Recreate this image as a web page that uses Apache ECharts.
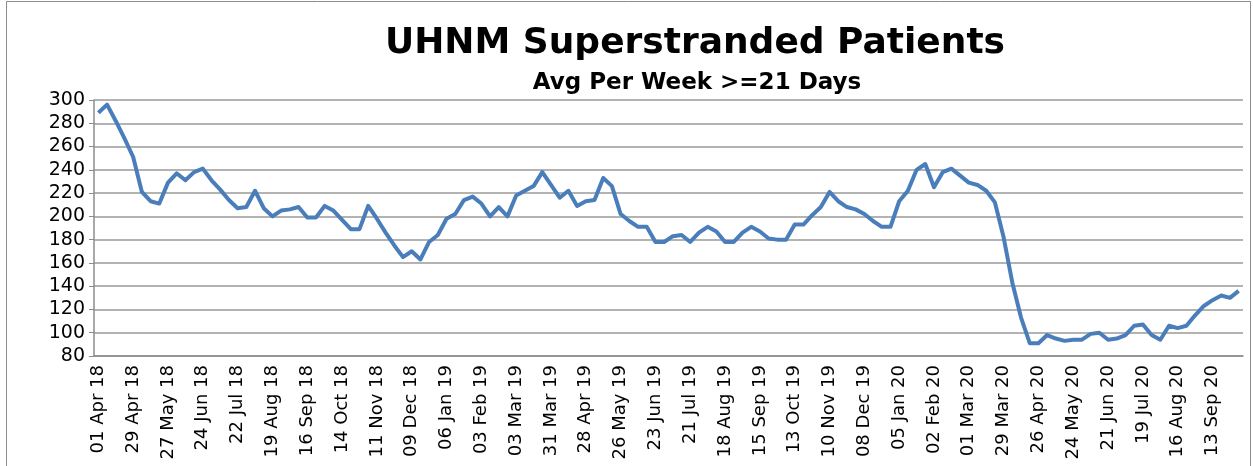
<!DOCTYPE html>
<html>
<head>
<meta charset="utf-8">
<script src="https://cdn.jsdelivr.net/npm/echarts@6/dist/echarts.min.js"></script>
<style>
  html, body { margin: 0; padding: 0; background: #fff; }
  #chart { width: 1253px; height: 466px; }
</style>
</head>
<body>
<div id="chart"></div>
<script>
// weekly dates (week commencing)
var weeks = [
  '01 Apr 18','08 Apr 18','15 Apr 18','22 Apr 18','29 Apr 18','06 May 18','13 May 18','20 May 18','27 May 18',
  '03 Jun 18','10 Jun 18','17 Jun 18','24 Jun 18','01 Jul 18','08 Jul 18','15 Jul 18','22 Jul 18','29 Jul 18',
  '05 Aug 18','12 Aug 18','19 Aug 18','26 Aug 18','02 Sep 18','09 Sep 18','16 Sep 18','23 Sep 18','30 Sep 18',
  '07 Oct 18','14 Oct 18','21 Oct 18','28 Oct 18','04 Nov 18','11 Nov 18','18 Nov 18','25 Nov 18',
  '02 Dec 18','09 Dec 18','16 Dec 18','23 Dec 18','30 Dec 18',
  '06 Jan 19','13 Jan 19','20 Jan 19','27 Jan 19','03 Feb 19','10 Feb 19','17 Feb 19','24 Feb 19',
  '03 Mar 19','10 Mar 19','17 Mar 19','24 Mar 19','31 Mar 19','07 Apr 19','14 Apr 19','21 Apr 19','28 Apr 19',
  '05 May 19','12 May 19','19 May 19','26 May 19','02 Jun 19','09 Jun 19','16 Jun 19','23 Jun 19','30 Jun 19',
  '07 Jul 19','14 Jul 19','21 Jul 19','28 Jul 19','04 Aug 19','11 Aug 19','18 Aug 19','25 Aug 19',
  '01 Sep 19','08 Sep 19','15 Sep 19','22 Sep 19','29 Sep 19','06 Oct 19','13 Oct 19','20 Oct 19','27 Oct 19',
  '03 Nov 19','10 Nov 19','17 Nov 19','24 Nov 19','01 Dec 19','08 Dec 19','15 Dec 19','22 Dec 19','29 Dec 19',
  '05 Jan 20','12 Jan 20','19 Jan 20','26 Jan 20','02 Feb 20','09 Feb 20','16 Feb 20','23 Feb 20',
  '01 Mar 20','08 Mar 20','15 Mar 20','22 Mar 20','29 Mar 20','05 Apr 20','12 Apr 20','19 Apr 20','26 Apr 20',
  '03 May 20','10 May 20','17 May 20','24 May 20','31 May 20','07 Jun 20','14 Jun 20','21 Jun 20','28 Jun 20',
  '05 Jul 20','12 Jul 20','19 Jul 20','26 Jul 20','02 Aug 20','09 Aug 20','16 Aug 20','23 Aug 20','30 Aug 20',
  '06 Sep 20','13 Sep 20','20 Sep 20','27 Sep 20','04 Oct 20'
];

// avg superstranded patients (>=21 days) per week
var patients = [
  289, 296, 282, 267, 251, 221, 213, 211, 229, 237,
  231, 238, 241, 231, 223, 214, 207, 208, 222, 207,
  200, 205, 206, 208, 199, 199, 209, 205, 197, 189,
  189, 209, 198, 186, 175, 165, 170, 163, 178, 184,
  198, 202, 214, 217, 211, 200, 208, 200, 218, 222,
  226, 238, 227, 216, 222, 209, 213, 214, 233, 226,
  202, 196, 191, 191, 178, 178, 183, 184, 178, 186,
  191, 187, 178, 178, 186, 191, 187, 181, 180, 180,
  193, 193, 201, 208, 221, 213, 208, 206, 202, 196,
  191, 191, 213, 222, 240, 245, 225, 238, 241, 235,
  229, 227, 222, 212, 182, 143, 113, 91, 91, 98,
  95, 93, 94, 94, 99, 100, 94, 95, 98, 106,
  107, 98, 94, 106, 104, 106, 115, 123, 128, 132,
  130, 136
];

var yMin = 80, yMax = 300, yStep = 20;

var chart = echarts.init(document.getElementById('chart'), null, {renderer: 'canvas'});

var option = {
  animation: false,
  backgroundColor: '#ffffff',
  title: [
    {
      text: 'UHNM Superstranded Patients',
      left: 690, top: 21, textAlign: 'center',
      textStyle: {fontFamily: 'DejaVu Sans', fontWeight: 'bold', fontSize: 36, color: '#000'}
    },
    {
      text: 'Avg Per Week >=21 Days',
      left: 692, top: 67, textAlign: 'center',
      textStyle: {fontFamily: 'DejaVu Sans', fontWeight: 'bold', fontSize: 23, color: '#000'}
    }
  ],
  graphic: [{
    type: 'rect',
    shape: {x: 6.5, y: 1.5, width: 1244, height: 480},
    style: {fill: 'none', stroke: '#8c8c8c', lineWidth: 1},
    silent: true
  }],
  grid: {left: 94, right: 10, top: 100, bottom: 110},
  xAxis: {
    type: 'category',
    data: weeks,
    boundaryGap: true,
    axisLine: {lineStyle: {color: '#8c8c8c', width: 1.5}},
    axisTick: {interval: 0, length: 6, lineStyle: {color: '#8c8c8c'}},
    axisLabel: {
      interval: 3, rotate: 90, margin: 9,
      fontFamily: 'DejaVu Sans', fontSize: 18, color: '#000'
    },
    splitLine: {show: false}
  },
  yAxis: {
    type: 'value',
    min: yMin, max: yMax, interval: yStep,
    axisLine: {show: true, lineStyle: {color: '#8c8c8c', width: 1.5}},
    axisTick: {show: true, length: 5, lineStyle: {color: '#8c8c8c'}},
    axisLabel: {margin: 9, fontFamily: 'DejaVu Sans', fontSize: 19, color: '#000'},
    splitLine: {lineStyle: {color: '#9a9a9a', width: 1.5}}
  },
  series: [{
    name: 'Superstranded',
    type: 'line',
    data: patients,
    symbol: 'none',
    lineStyle: {color: '#4a7ebb', width: 4, join: 'round'},
    itemStyle: {color: '#4a7ebb'}
  }]
};

chart.setOption(option);
</script>
</body>
</html>
